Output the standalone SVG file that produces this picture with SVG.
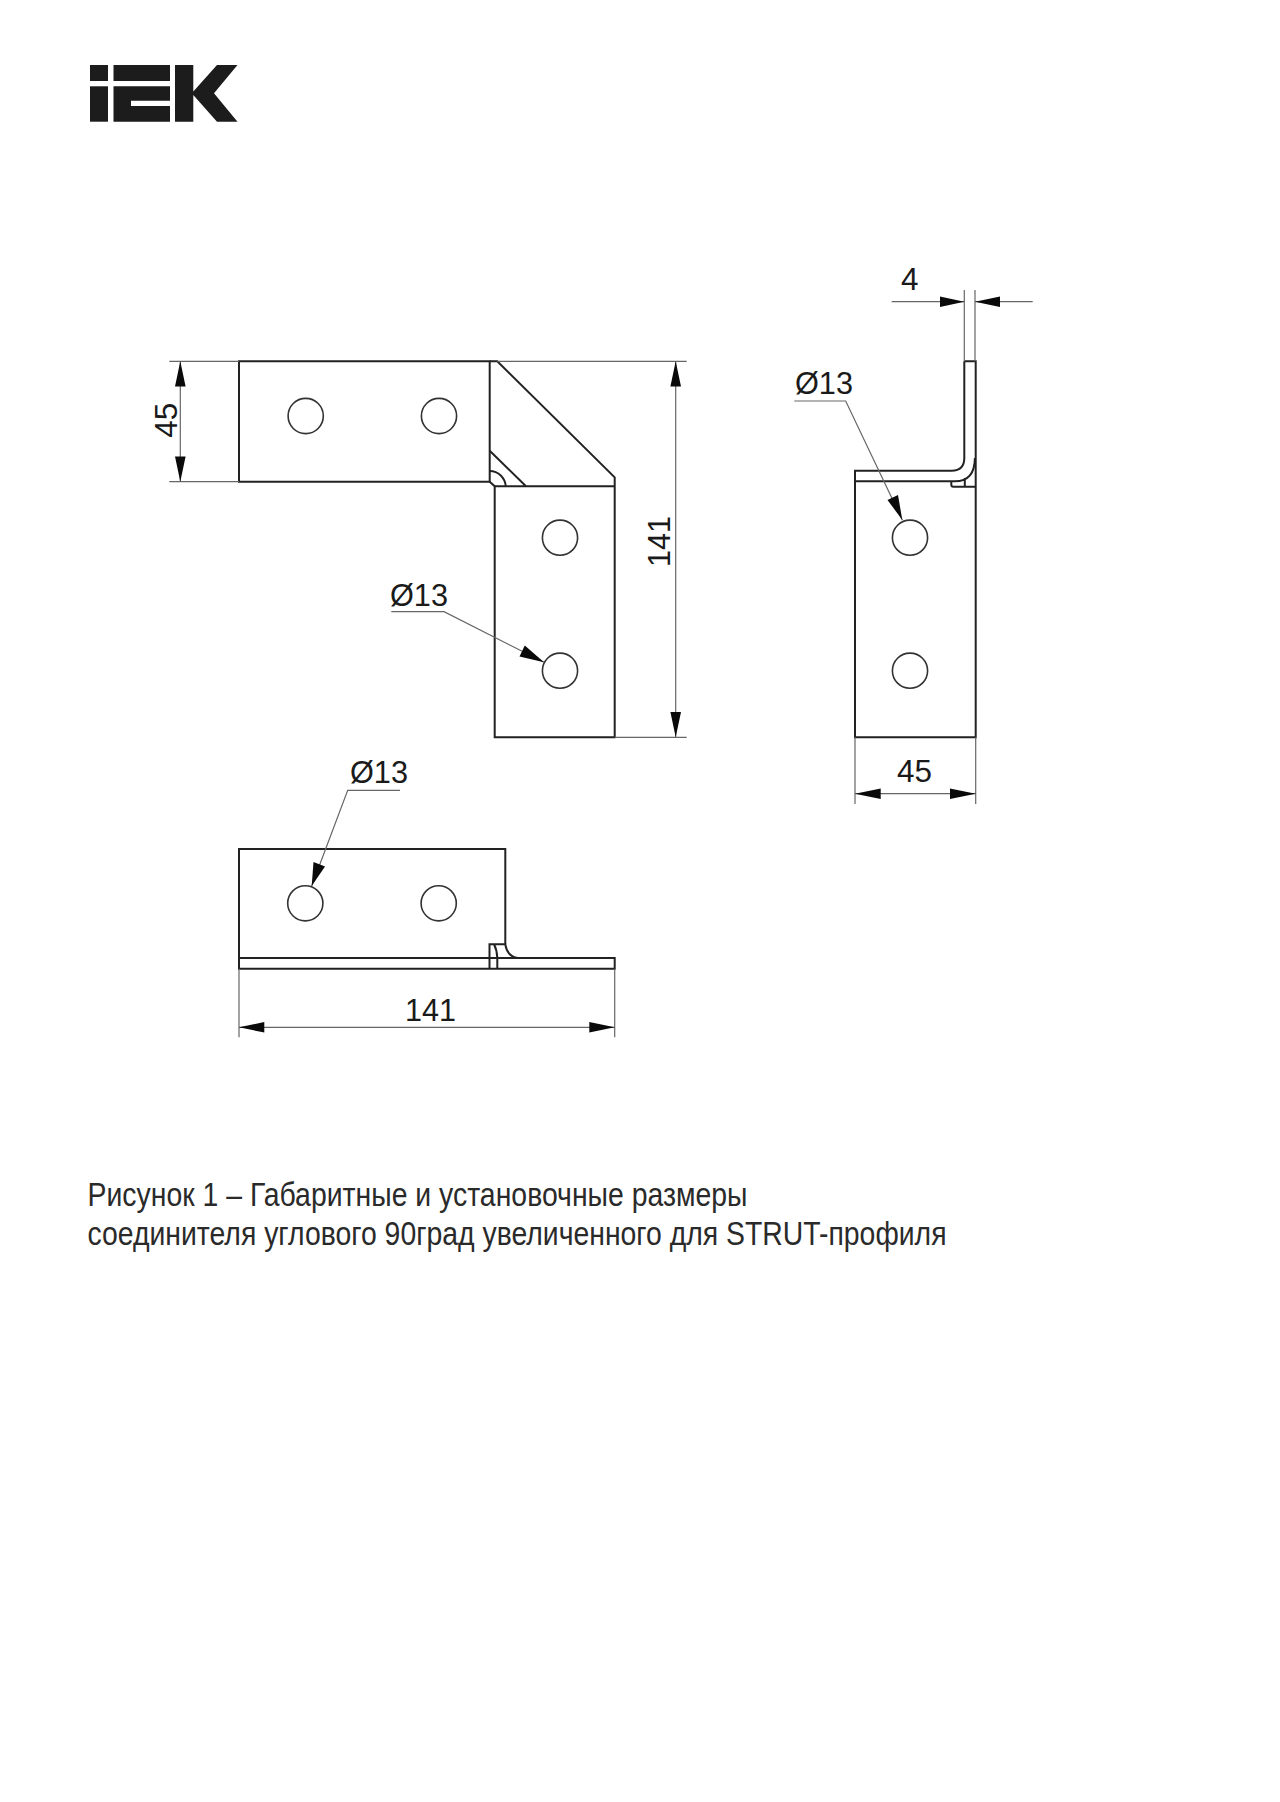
<svg xmlns="http://www.w3.org/2000/svg" width="1280" height="1802" viewBox="0 0 1280 1802">
<style>
.o{fill:none;stroke:#222;stroke-width:2}
.h{fill:#fff;stroke:#333;stroke-width:1.6}
.t{fill:none;stroke:#666;stroke-width:1.2}
.a{fill:#0a0a0a;stroke:none}
.d{font-family:"Liberation Sans",Arial,sans-serif;font-size:32px;fill:#1a1a1a}
.c{font-family:"Liberation Sans","Noto Sans",sans-serif;font-size:33px;fill:#2a2a2a}
</style>
<rect width="1280" height="1802" fill="#fff"/>
<g id="logo" fill="#1c1c1c">
<rect x="90" y="65" width="18" height="16"/>
<rect x="90" y="86.3" width="18" height="35.4"/>
<path d="M113.5 65H170V81H113.5ZM113.5 86.3H170V100.7H131V106H170V121.7H113.5Z"/>
<path d="M175 65H193.3V91.5L217 65H237.5L214 93.3L237.5 121.7H217L193.3 95V121.7H175Z"/>
</g>
<g id="view-plan">
<path class="o" d="M239 361.3H489.7V481.7H239Z"/>
<circle class="h" cx="305.7" cy="416" r="17.6"/>
<circle class="h" cx="439" cy="416" r="17.6"/>
<path class="o" d="M489.7 361.3H497.3L614.7 477.3V737.3H494.7V486.3L489.7 481.7"/>
<path class="o" d="M494.7 486.3H614.7M489.7 450.7L526 486.3M489.7 471A16 16 0 0 1 505.7 486.3"/>
<circle class="h" cx="560" cy="537.7" r="17.6"/>
<circle class="h" cx="560" cy="670.7" r="17.6"/>
</g>
<g id="view-side">
<path class="o" d="M964.3 361.3H975.7V737.3H855V470.7H951.7Q964.3 470.7 964.3 458V361.3"/>
<path class="o" d="M855 481.3H955Q974.7 481.3 974.9 458M951.3 481.3V484.7Q951.3 486.7 953.3 486.7H975.7M964.8 478V486.7"/>
<circle class="h" cx="910" cy="537.7" r="17.6"/>
<circle class="h" cx="910" cy="670.7" r="17.6"/>
</g>
<g id="view-front">
<path class="o" d="M239 968.7V849H505.3V944.3"/>
<path class="o" d="M239 958H614.7V968.7H239Z"/>
<path class="o" d="M489.5 968.7V944.3H505.3Q507 956 517.7 958M497.3 968.7V958Q497 950 494 944.3"/>
<circle class="h" cx="305.3" cy="903.3" r="17.6"/>
<circle class="h" cx="438.7" cy="903.3" r="17.6"/>
</g>
<g id="connectors">
<path class="t" d="M169.3 361.3H239M169.3 481.7H239M180.3 361.3V481.7"/>
<path class="a" d="M180.3 361.3L185.6 386.5H175ZM180.3 481.7L175 456.5H185.6Z"/>
<path class="t" d="M497.3 361.3H686.7M614.7 737.3H686.7M675.7 361.3V737.3"/>
<path class="a" d="M675.7 361.3L681 386.5H670.4ZM675.7 737.3L670.4 712H681Z"/>
<path class="t" d="M391.3 611.7H444L544 662.3"/>
<path class="a" d="M544 662.3L519.5 656.5L524.8 645.5Z"/>
<path class="t" d="M891.7 301.7H964.3M975 301.7H1032.7M964.3 290V361.3M975 290V361.3"/>
<path class="a" d="M964.3 301.7L940 307V296.4ZM975 301.7L1000 296.4V307Z"/>
<path class="t" d="M794.3 401H845.7L902.3 520"/>
<path class="a" d="M902.3 520L887.5 500L898 495Z"/>
<path class="t" d="M855 737.3V804M975.7 737.3V804M855 793.7H975.7"/>
<path class="a" d="M855 793.7L880.7 788.4V799ZM975.7 793.7L950 799V788.4Z"/>
<path class="t" d="M400 790.3H347.7L311.7 886"/>
<path class="a" d="M311.7 886L313.5 862L325 866.5Z"/>
<path class="t" d="M239 968.7V1037.3M614.7 968.7V1037.3M239 1027.3H614.7"/>
<path class="a" d="M239 1027.3L264.3 1022V1032.6ZM614.7 1027.3L589.3 1032.6V1022Z"/>
</g>
<g id="dimension-labels">
<text class="d" transform="translate(177 402.7) rotate(-90) translate(-35 0)" textLength="35" lengthAdjust="spacingAndGlyphs">45</text>
<text class="d" transform="translate(669.5 567) rotate(-90)" textLength="51" lengthAdjust="spacingAndGlyphs">141</text>
<text class="d" x="390" y="605.7" textLength="58" lengthAdjust="spacingAndGlyphs">Ø13</text>
<text class="d" x="901" y="290" textLength="17.5" lengthAdjust="spacingAndGlyphs">4</text>
<text class="d" x="795" y="394" textLength="58" lengthAdjust="spacingAndGlyphs">Ø13</text>
<text class="d" x="897" y="781.7" textLength="35" lengthAdjust="spacingAndGlyphs">45</text>
<text class="d" x="350" y="783.3" textLength="58" lengthAdjust="spacingAndGlyphs">Ø13</text>
<text class="d" x="405" y="1020.7" textLength="51" lengthAdjust="spacingAndGlyphs">141</text>
</g>
<g id="caption">
<text class="c" x="87.5" y="1206" textLength="660" lengthAdjust="spacingAndGlyphs">Рисунок 1 – Габаритные и установочные размеры</text>
<text class="c" x="87.5" y="1245" textLength="859" lengthAdjust="spacingAndGlyphs">соединителя углового 90град увеличенного для STRUT-профиля</text>
</g>
</svg>
